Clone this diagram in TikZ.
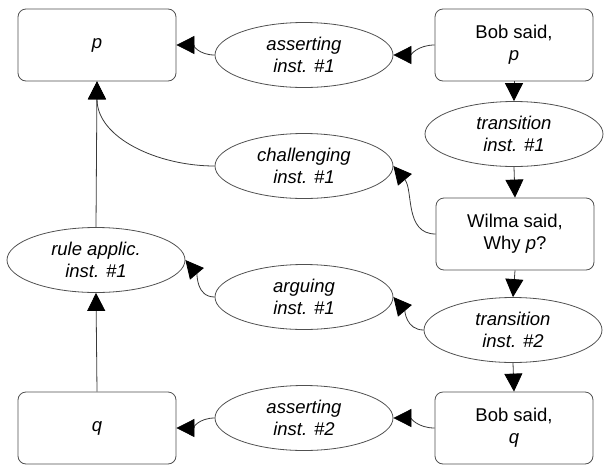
\documentclass[tikz,border=0pt]{standalone}
\usepackage{fontspec}
\setmainfont{Liberation Sans}
\usetikzlibrary{shapes.geometric,arrows.meta}
\definecolor{edgegray}{HTML}{3A3A3A}
\definecolor{bordergray}{HTML}{505050}
\tikzset{
  boxnode/.style={draw=bordergray, line width=0.8pt, rounded corners=8pt, minimum width=158pt, minimum height=72pt, inner sep=0pt, align=center, font=\fontsize{18.5}{22}\selectfont},
  ellnode/.style={draw=bordergray, line width=0.8pt, ellipse, minimum width=178pt, minimum height=65pt, inner sep=0pt, align=center, font=\fontsize{18.5}{22}\selectfont\itshape},
  conn/.style={draw=edgegray, line width=0.8pt, -{Triangle[length=18pt,width=18pt,color=black]}},
}
\begin{document}
\begin{tikzpicture}[x=1pt,y=-1pt]
\useasboundingbox (0,0) rectangle (608,469);
% boxes
\node[boxnode] (p) at (97,45) {\itshape p};
\node[boxnode] (bobp) at (514,45) {Bob said,\\\itshape p};
\node[boxnode] (wilma) at (515,234) {Wilma said,\\Why \textit{p}?};
\node[boxnode] (q) at (97,428) {\itshape q};
\node[boxnode] (bobq) at (514,428) {Bob said,\\\itshape q};
% ellipses
\node[ellnode] (as1) at (304,55) {asserting\\inst. \#1};
\node[ellnode] (tr1) at (514,134) {transition\\inst. \#1};
\node[ellnode] (ch1) at (304,166) {challenging\\inst. \#1};
\node[ellnode] (rule) at (96,260) {rule applic.\\inst. \#1};
\node[ellnode] (arg1) at (304,297) {arguing\\inst. \#1};
\node[ellnode] (tr2) at (513,330) {transition\\inst. \#2};
\node[ellnode] (as2) at (304,418) {asserting\\inst. \#2};
% connectors
\draw[conn] (bobp.west) to[out=180,in=0] (as1.east);
\draw[conn] (as1.west) to[out=180,in=0] (p.east);
\draw[conn] (bobp.south) -- (tr1.north);
\draw[conn] (tr1.south) -- (wilma.north);
\draw[conn] (wilma.west) to[out=180,in=-50] (ch1.east);
\draw[conn] (ch1.west) to[out=180,in=-90] (p.south);
\draw[conn] (rule.north) -- (p.south);
\draw[conn] (q.north) -- (rule.south);
\draw[conn] (wilma.south) -- (tr2.north);
\draw[conn] (tr2.west) to[out=180,in=-50] (arg1.east);
\draw[conn] (arg1.west) to[out=180,in=-50] (rule.east);
\draw[conn] (tr2.south) -- (bobq.north);
\draw[conn] (bobq.west) to[out=180,in=0] (as2.east);
\draw[conn] (as2.west) to[out=180,in=0] (q.east);
\end{tikzpicture}
\end{document}
